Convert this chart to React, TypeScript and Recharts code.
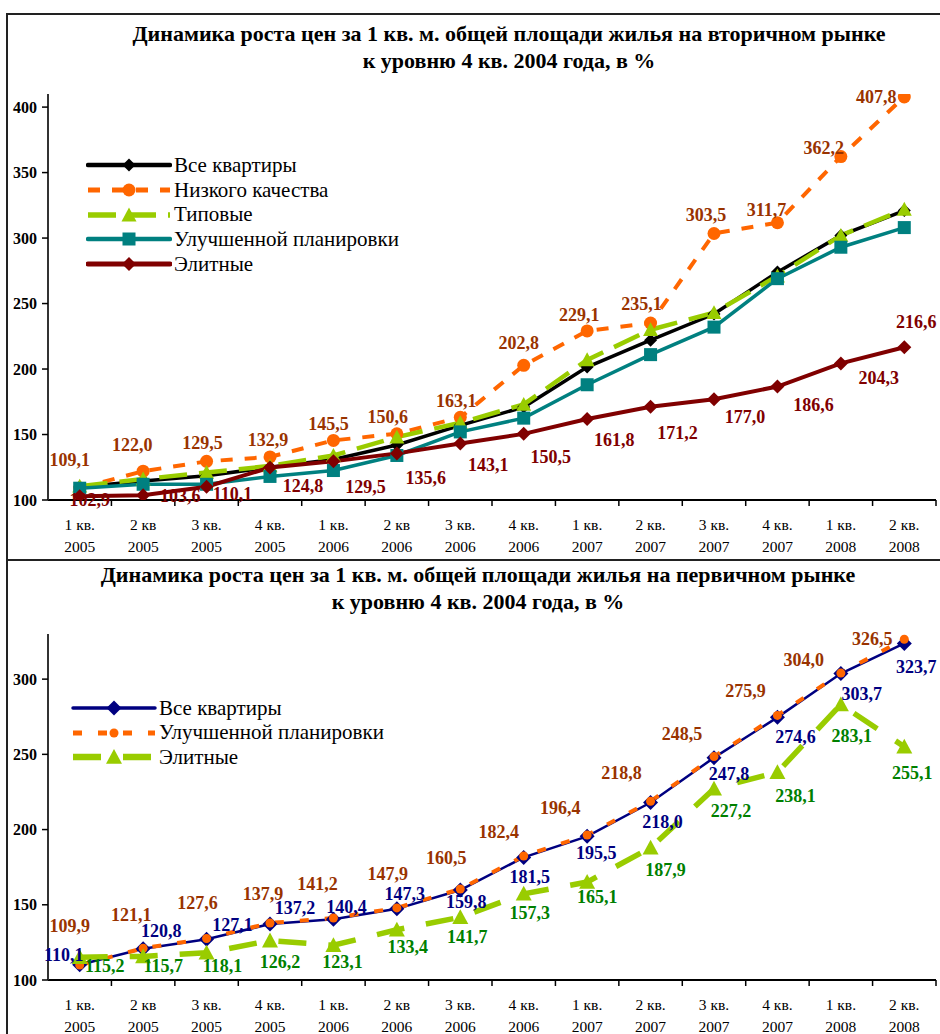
import React from 'react';
import { LineChart, Line, XAxis, YAxis, Legend, LabelList } from 'recharts';

const FONT = '"Liberation Serif", "Times New Roman", serif';

const quarters = ['1 кв.', '2 кв', '3 кв.', '4 кв.', '1 кв.', '2 кв', '3 кв.', '4 кв.', '1 кв.', '2 кв.', '3 кв.', '4 кв.', '1 кв.', '2 кв.'];
const years = ['2005', '2005', '2005', '2005', '2006', '2006', '2006', '2006', '2007', '2007', '2007', '2007', '2008', '2008'];

// вторичный рынок
const secAll = [110, 114.5, 118.5, 125, 131, 142, 157, 171, 201.5, 222, 242, 274, 302, 321];
const secLow = [109.1, 122.0, 129.5, 132.9, 145.5, 150.6, 163.1, 202.8, 229.1, 235.1, 303.5, 311.7, 362.2, 407.8];
const secTypical = [110.5, 116, 121, 126, 134, 148, 159, 173, 207, 230, 243, 271, 302, 322];
const secImproved = [109, 112, 112, 118, 122.5, 134, 152, 162.5, 188, 211, 232, 269, 293, 308];
const secElite = [102.9, 103.6, 110.1, 124.8, 129.5, 135.6, 143.1, 150.5, 161.8, 171.2, 177.0, 186.6, 204.3, 216.6];
const secTicks = [100, 150, 200, 250, 300, 350, 400];

// первичный рынок
const primAll = [110.1, 120.8, 127.1, 137.2, 140.4, 147.3, 159.8, 181.5, 195.5, 218.0, 247.8, 274.6, 303.7, 323.7];
const primImproved = [109.9, 121.1, 127.6, 137.9, 141.2, 147.9, 160.5, 182.4, 196.4, 218.8, 248.5, 275.9, 304.0, 326.5];
const primElite = [115.2, 115.7, 118.1, 126.2, 123.1, 133.4, 141.7, 157.3, 165.1, 187.9, 227.2, 238.1, 283.1, 255.1];
const primTicks = [100, 150, 200, 250, 300];

const cats = quarters.map((q, i) => `${q}\n${years[i]}`);

const secData = cats.map((cat, i) => ({
  cat,
  all: secAll[i],
  low: secLow[i],
  typical: secTypical[i],
  improved: secImproved[i],
  elite: secElite[i],
}));

const primData = cats.map((cat, i) => ({
  cat,
  all: primAll[i],
  improved: primImproved[i],
  elite: primElite[i],
}));

// label offsets (label centre relative to the point)
const secLowOff = [[-10, -28], [-11, -26], [-4, -18], [-2, -17], [-5, -16], [-9, -17], [-4, -16], [-5, -22], [-8, -16], [-9, -19], [-8, -18], [-11, -13], [-17, -9], [-28, 0]];
const secEliteOff = [[10, 4], [37, 1], [26, 7], [33, 18], [32, 26], [29, 25], [28, 21], [27, 23], [27, 21], [27, 26], [31, 18], [36, 18], [38, 15], [12, -25]];
const primImpOff = [[-10, -39], [-12, -33], [-9, -35], [-7, -29], [-16, -34], [-9, -34], [-14, -31], [-25, -24], [-27, -27], [-29, -28], [-32, -23], [-32, -24], [-37, -13], [-32, 0]];
const primAllOff = [[-16, -10], [18, -18], [26, -14], [25, -16], [13, -12], [8, -15], [6, 12], [6, 20], [9, 17], [12, 20], [15, 16], [18, 20], [21, 20], [12, 24]];
const primEliteOff = [[25, 9], [20, 10], [16, 13], [10, 21], [9, 17], [11, 17], [7, 20], [6, 19], [10, 15], [15, 22], [17, 22], [18, 24], [11, 31], [8, 26]];

const W = 940;
const Y_AXIS_W = 48;
const RIGHT = 4;
const BAND = (W - Y_AXIS_W - RIGHT) / cats.length;

type Shape = 'diamond' | 'circle' | 'square' | 'triangle';

interface Series {
  key: string;
  name: string;
  color: string;
  width: number;
  dash?: string;
  shape: Shape;
  size: number;
  label?: { color: string; off: number[][] };
}

function marker(shape: Shape, cx: number, cy: number, size: number, fill: string, key?: string) {
  const h = size / 2;
  if (shape === 'circle') return <circle key={key} cx={cx} cy={cy} r={h} fill={fill} />;
  if (shape === 'square') return <rect key={key} x={cx - h} y={cy - h} width={size} height={size} fill={fill} />;
  if (shape === 'triangle')
    return <polygon key={key} points={`${cx},${cy - h} ${cx + h},${cy + h * 0.85} ${cx - h},${cy + h * 0.85}`} fill={fill} />;
  return <polygon key={key} points={`${cx},${cy - h} ${cx + h},${cy} ${cx},${cy + h} ${cx - h},${cy}`} fill={fill} />;
}

const fmt = (v: number) => v.toFixed(1).replace('.', ',');

const secSeries: Series[] = [
  { key: 'all', name: 'Все квартиры', color: '#000000', width: 3.5, shape: 'diamond', size: 13 },
  { key: 'low', name: 'Низкого качества', color: '#FF6600', width: 4, dash: '12 12', shape: 'circle', size: 13, label: { color: '#993300', off: secLowOff } },
  { key: 'typical', name: 'Типовые', color: '#99CC00', width: 4.5, dash: '28 12', shape: 'triangle', size: 15 },
  { key: 'improved', name: 'Улучшенной планировки', color: '#008080', width: 3.5, shape: 'square', size: 13 },
  { key: 'elite', name: 'Элитные', color: '#800000', width: 4, shape: 'diamond', size: 14, label: { color: '#800000', off: secEliteOff } },
];

const primSeries: Series[] = [
  { key: 'all', name: 'Все квартиры', color: '#000080', width: 2.5, shape: 'diamond', size: 15, label: { color: '#000080', off: primAllOff } },
  { key: 'improved', name: 'Улучшенной планировки', color: '#FF6600', width: 4, dash: '9 16', shape: 'circle', size: 9, label: { color: '#993300', off: primImpOff } },
  { key: 'elite', name: 'Элитные', color: '#99CC00', width: 5.5, dash: '28 22', shape: 'triangle', size: 16, label: { color: '#008000', off: primEliteOff } },
];

const QuarterTick = (props: any) => {
  const { x, y, payload } = props;
  const [q, yr] = String(payload.value).split('\n');
  return (
    <g>
      <line x1={x + BAND / 2} x2={x + BAND / 2} y1={y} y2={y + 6} stroke="#000" strokeWidth={1.5} />
      <text x={x} y={y + 24} textAnchor="middle" dominantBaseline="central" fontSize={15.5} fontFamily={FONT} fill="#000">{q}</text>
      <text x={x} y={y + 46} textAnchor="middle" dominantBaseline="central" fontSize={15.5} fontFamily={FONT} fill="#000">{yr}</text>
    </g>
  );
};

const makeLabel = (color: string, off: number[][]) => (props: any) => {
  const { x, y, value, index } = props;
  const [dx, dy] = off[index] || [0, -20];
  return (
    <text x={x + dx} y={y + dy} textAnchor="middle" dominantBaseline="central" fill={color} fontSize={18} fontWeight="bold" fontFamily={FONT}>
      {fmt(value)}
    </text>
  );
};

const makeLegend = (series: Series[], rowH: number) => (props: any) => (
  <div style={{ fontFamily: FONT, fontSize: 21, color: '#000' }}>
    {(props.payload || []).map((p: any) => {
      const s = series.find((it) => it.key === p.dataKey);
      if (!s) return null;
      return (
        <div key={s.key} style={{ display: 'flex', alignItems: 'center', height: rowH }}>
          <svg width={86} height={20} style={{ marginRight: 2 }}>
            <line x1={2} x2={84} y1={10} y2={10} stroke={s.color} strokeWidth={s.width + 1} strokeDasharray={s.dash} strokeLinecap={s.dash ? 'butt' : 'round'} />
            {marker(s.shape, 43, 10, s.size, s.color)}
          </svg>
          <span style={{ lineHeight: 1 }}>{s.name}</span>
        </div>
      );
    })}
  </div>
);

interface ChartProps {
  data: any[];
  series: Series[];
  domain: [number, number];
  ticks: number[];
  height: number;
  top: number;
  xAxisH: number;
  legendPos: { left: number; top: number };
  rowH: number;
}

const PriceChart = ({ data, series, domain, ticks, height, top, xAxisH, legendPos, rowH }: ChartProps) => (
  <LineChart width={W} height={height} data={data} margin={{ top, right: RIGHT, bottom: 0, left: 0 }}>
    <XAxis
      dataKey="cat"
      interval={0}
      height={xAxisH}
      padding={{ left: BAND / 2, right: BAND / 2 }}
      tickSize={0}
      tickMargin={0}
      tickLine={false}
      tick={<QuarterTick />}
      axisLine={{ stroke: '#000', strokeWidth: 2 }}
    />
    <XAxis xAxisId="t" dataKey="cat" orientation="top" height={0} tick={false} tickLine={false} axisLine={{ stroke: '#8c8c8c', strokeWidth: 2.5 }} />
    <YAxis
      domain={domain}
      ticks={ticks}
      allowDataOverflow
      width={Y_AXIS_W}
      tickSize={6}
      tickMargin={5}
      tickLine={{ stroke: '#000', strokeWidth: 1.5 }}
      axisLine={{ stroke: '#333', strokeWidth: 2 }}
      tick={{ fontSize: 16, fontWeight: 'bold', fontFamily: FONT, fill: '#000' }}
    />
    <YAxis yAxisId="r" orientation="right" domain={domain} width={0} tick={false} tickLine={false} axisLine={{ stroke: '#8c8c8c', strokeWidth: 2.5 }} />
    <Legend
      layout="vertical"
      align="center"
      verticalAlign="middle"
      wrapperStyle={{ left: legendPos.left, top: legendPos.top, width: 'auto', height: 'auto' }}
      content={makeLegend(series, rowH)}
    />
    {series.map((s) => (
      <Line
        key={s.key}
        dataKey={s.key}
        name={s.name}
        type="linear"
        stroke={s.color}
        strokeWidth={s.width}
        strokeDasharray={s.dash}
        isAnimationActive={false}
        dot={(p: any) => marker(s.shape, p.cx, p.cy, s.size, s.color, `${s.key}-${p.index}`)}
        activeDot={false}
      >
        {s.label && <LabelList dataKey={s.key} content={makeLabel(s.label.color, s.label.off)} />}
      </Line>
    ))}
  </LineChart>
);

const titleStyle: React.CSSProperties = {
  position: 'absolute',
  fontFamily: FONT,
  fontWeight: 'bold',
  fontSize: 22,
  color: '#000',
  textAlign: 'center',
  whiteSpace: 'nowrap',
  lineHeight: '27px',
};

export default function App() {
  return (
    <div style={{ position: 'absolute', left: 0, top: 0, width: W, height: 1034, overflow: 'hidden', background: '#fff' }}>
      <div style={{ position: 'absolute', left: 0, top: 0 }}>
        <PriceChart
          data={secData}
          series={secSeries}
          domain={[100, 410]}
          ticks={secTicks}
          height={560}
          top={94}
          xAxisH={60}
          legendPos={{ left: 86, top: 153 }}
          rowH={24.7}
        />
      </div>
      <div style={{ position: 'absolute', left: 0, top: 560 }}>
        <PriceChart
          data={primData}
          series={primSeries}
          domain={[100, 330]}
          ticks={primTicks}
          height={474}
          top={74}
          xAxisH={54}
          legendPos={{ left: 71, top: 136 }}
          rowH={24.5}
        />
      </div>
      <div style={{ ...titleStyle, left: 0, width: 1018, top: 20 }}>
        Динамика роста цен за 1 кв. м. общей площади жилья на вторичном рынке
        <br />
        к уровню 4 кв. 2004 года, в %
      </div>
      <div style={{ ...titleStyle, left: 0, width: 956, top: 561 }}>
        Динамика роста цен за 1 кв. м. общей площади жилья на первичном рынке
        <br />
        к уровню 4 кв. 2004 года, в %
      </div>
      <div style={{ position: 'absolute', left: 6, top: 13, width: W, height: 0, borderTop: '2px solid #222' }} />
      <div style={{ position: 'absolute', left: 6, top: 13, width: 0, height: 1034, borderLeft: '2px solid #222' }} />
      <div style={{ position: 'absolute', left: 6, top: 559, width: W, height: 0, borderTop: '2px solid #222' }} />
    </div>
  );
}
